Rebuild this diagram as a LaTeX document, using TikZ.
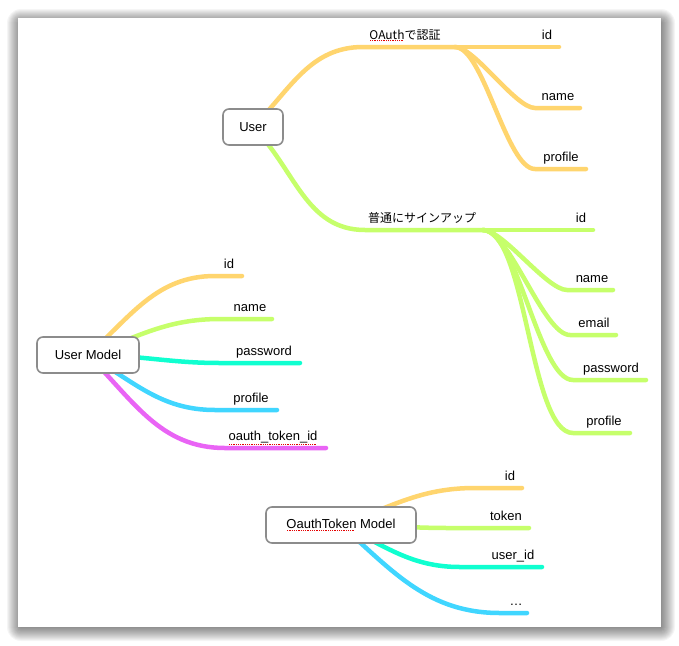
\documentclass[tikz,border=0pt]{standalone}
\usepackage{fontspec}
\setmainfont{Liberation Sans}
\newfontfamily\jpfont{Noto Sans CJK JP}
\usetikzlibrary{backgrounds}
\definecolor{yel}{RGB}{255,213,110}
\definecolor{grn}{RGB}{198,255,107}
\definecolor{cyn}{RGB}{16,255,208}
\definecolor{blu}{RGB}{64,214,255}
\definecolor{mag}{RGB}{233,100,245}
\colorlet{boxgray}{black!45}
\colorlet{spellred}{red!90!black}
\newcommand\lblfont{\fontsize{13}{15}\selectfont}
\newcommand\jp{\jpfont\fontsize{12}{14}\selectfont}
\newcommand\spl[1]{\setbox0\hbox{#1}\vtop{\copy0\nointerlineskip\kern1pt
  \hbox to\wd0{\color{spellred}\leaders\hbox to1.8pt{\hss\vrule width.9pt height.9pt\hss}\hfill}}}
\tikzstyle{topic}=[draw=boxgray,line width=1.6pt,rounded corners=6pt,fill=white,minimum height=36pt,inner xsep=4pt,font=\lblfont]
\tikzstyle{leaf}=[anchor=base,inner sep=0pt,font=\lblfont]
\tikzstyle{br}=[line width=4.5pt,line cap=round]

\begin{document}
\begin{tikzpicture}[x=1pt,y=-1pt]
	\useasboundingbox (0,0) rectangle (679,645);
	\node[topic,minimum width=60pt]  (user)   at (253,127) {User};
	\node[topic,minimum width=102pt] (umodel) at (88,355)  {User Model};
	\node[topic,minimum width=150pt] (tmodel) at (341,525) {\spl{OauthToken} Model};
	\begin{pgfonlayer}{background}
		\foreach \s in {1,...,14}
			\fill[black,opacity=.04,rounded corners=\s pt] (21-\s,23-\s) rectangle (661+\s,627+\s);
		\fill[white] (18,18) rectangle (661,627);
		% branches out of the topic nodes
		\foreach \nm/\txt/\col/\src/\ang/\ax/\bx/\y/\cx in {
			oauth/{\jp\spl{OAuth}で認証}/yel/user/45/363/455/47/405,
			signup/{\jp 普通にサインアップ}/grn/user/-45/365/483/230/422,
			uid/id/yel/umodel/42/215/242/276/229,
			uname/name/grn/umodel/20/220/272/319/250,
			upass/password/cyn/umodel/0/220/300/363/264,
			uprof/profile/blu/umodel/-30/215/277/410/251,
			uotid/{\spl{oauth\_token\_id}}/mag/umodel/-45/225/326/448/273,
			tid/id/yel/tmodel/20/475/522/488/510,
			ttok/token/grn/tmodel/0/450/529/528/506,
			tuid/user\_id/cyn/tmodel/-25/460/542/567/513,
			tdots/\ldots/blu/tmodel/-42/500/527/613/516}{
			\coordinate (\nm-a) at (\ax,\y);
			\coordinate (\nm-b) at (\bx,\y);
			\draw[br,\col] (\src.center) to[out=\ang,in=180] (\nm-a) -- (\nm-b);
			\node[leaf] (\nm) at (\cx,\y-8) {\txt};
		}
		% leaves of the two sign-in branches
		\foreach \nm/\txt/\col/\src/\ax/\bx/\y/\cx in {
			oid/id/yel/oauth-b/500/559/47/547,
			oname/name/yel/oauth-b/535/580/108/558,
			oprof/profile/yel/oauth-b/535/586/169/561,
			sid/id/grn/signup-b/540/593/230/581,
			sname/name/grn/signup-b/567/613/290/592,
			semail/email/grn/signup-b/570/616/335/594,
			spass/password/grn/signup-b/573/646/380/611,
			sprof/profile/grn/signup-b/573/630/433/604}{
			\coordinate (\nm-a) at (\ax,\y);
			\coordinate (\nm-b) at (\bx,\y);
			\draw[br,\col] (\src.center) to[out=0,in=180,looseness=.5] (\nm-a) -- (\nm-b);
			\node[leaf] (\nm) at (\cx,\y-8) {\txt};
		}
	\end{pgfonlayer}
\end{tikzpicture}
\end{document}
